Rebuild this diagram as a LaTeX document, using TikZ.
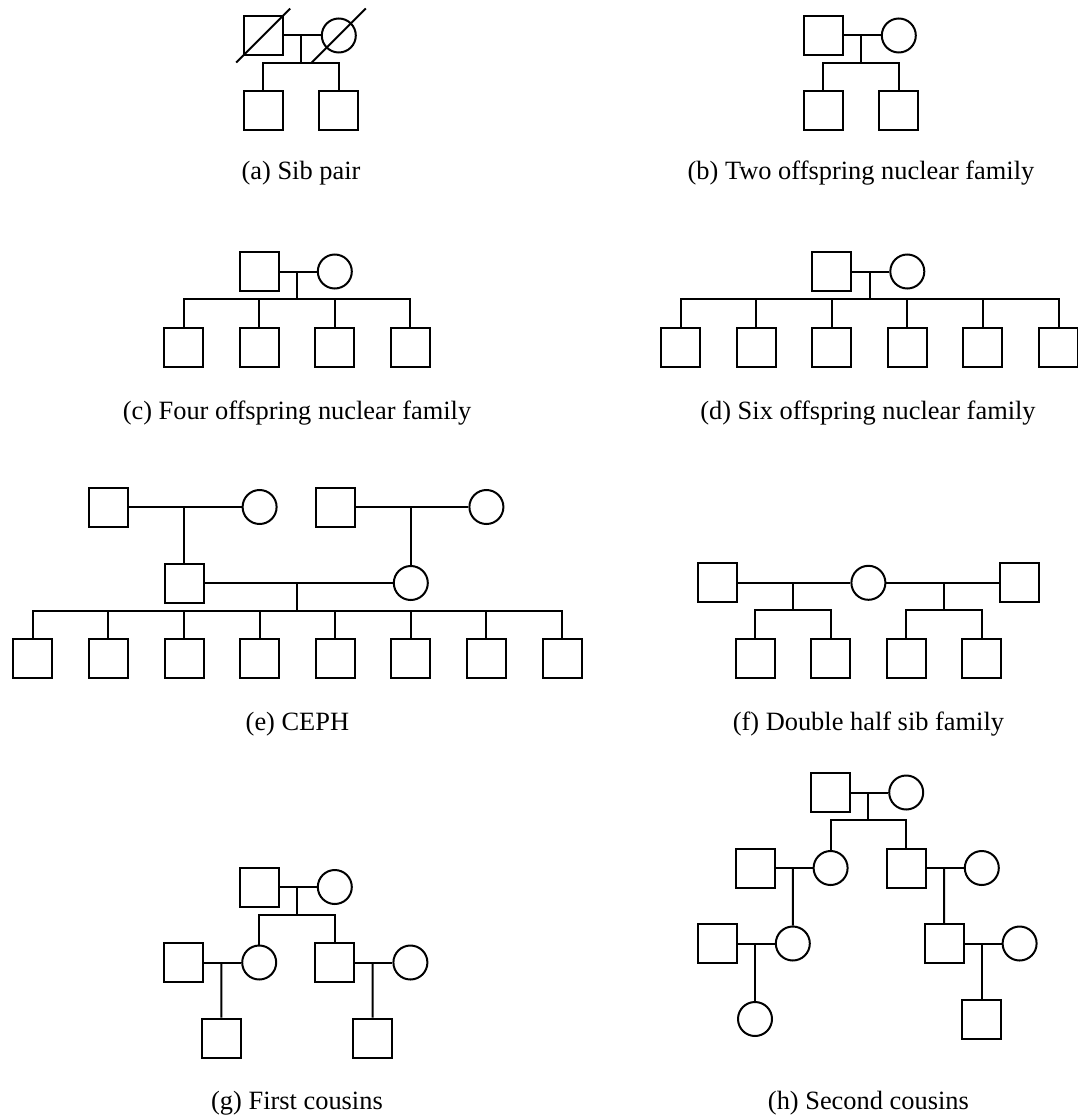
\documentclass[tikz,border=0pt]{standalone}
\usepackage{fontspec}
\setmainfont{Liberation Serif}
\usetikzlibrary{calc}
\tikzset{
  male/.style = {draw, rectangle, minimum size=39, inner sep=0pt},
  female/.style = {draw, circle, minimum size=34, inner sep=0pt},
  caption/.style = {anchor=base, font=\fontsize{26.4}{30}\selectfont}
}

\begin{document}
\begin{tikzpicture}[x=1pt,y=-1pt,line width=2pt]
  \useasboundingbox (0,0) rectangle (1077,1118);
  \pgfmathsetmacro{\dx}{75.6};
  \pgfmathsetmacro{\hx}{37.8};
  \pgfmathsetmacro{\dy}{75.5};
  \pgfmathsetmacro{\sib}{27.5};
  %
  % (a) sib pair
  \node[male] (a-f) at (301-\hx,35.5) {};
  \node[female] (a-m) at (301+\hx,35.5) {};
  \node[male] (a-c1) at (301-\hx,35.5+\dy) {};
  \node[male] (a-c2) at (301+\hx,35.5+\dy) {};
  \coordinate (a-j) at ($(a-f)!.5!(a-m)$);
  \coordinate (a-sib) at ($(a-j)+(0,\sib)$);
  \draw (a-f) -- (a-m);
  \draw (a-j) -- (a-sib);
  \draw (a-c1.north) |- (a-sib) -| (a-c2.north);
  \draw (a-f) ++(-27,27) -- ++(54,-54);
  \draw (a-m) ++(-27,27) -- ++(54,-54);
  \node[caption] (a-cap) at (301,180) {(a) Sib pair};
  %
  % (b) two offspring
  \node[male] (b-f) at (861-\hx,35.5) {};
  \node[female] (b-m) at (861+\hx,35.5) {};
  \node[male] (b-c1) at (861-\hx,35.5+\dy) {};
  \node[male] (b-c2) at (861+\hx,35.5+\dy) {};
  \coordinate (b-j) at ($(b-f)!.5!(b-m)$);
  \coordinate (b-sib) at ($(b-j)+(0,\sib)$);
  \draw (b-f) -- (b-m);
  \draw (b-j) -- (b-sib);
  \draw (b-c1.north) |- (b-sib) -| (b-c2.north);
  \node[caption] (b-cap) at (861,180) {(b) Two offspring nuclear family};
  %
  % (c) four offspring
  \node[male] (c-f) at (297-\hx,271.5) {};
  \node[female] (c-m) at (297+\hx,271.5) {};
  \foreach \k in {1,...,4}
    \node[male] (c-c\k) at ({297+(\k-2.5)*\dx},271.5+\dy) {};
  \coordinate (c-j) at ($(c-f)!.5!(c-m)$);
  \coordinate (c-sib) at ($(c-j)+(0,\sib)$);
  \draw (c-f) -- (c-m);
  \draw (c-j) -- (c-sib);
  \draw (c-c1.north) |- (c-sib) -| (c-c4.north);
  \foreach \k in {2,3}
    \draw (c-c\k.north) -- (c-c\k.north |- c-sib);
  \node[caption] (c-cap) at (297,419.5) {(c) Four offspring nuclear family};
  %
  % (d) six offspring
  \node[male] (d-f) at (869.5-\hx,271.5) {};
  \node[female] (d-m) at (869.5+\hx,271.5) {};
  \foreach \k in {1,...,6}
    \node[male] (d-c\k) at ({869.5+(\k-3.5)*\dx},271.5+\dy) {};
  \coordinate (d-j) at ($(d-f)!.5!(d-m)$);
  \coordinate (d-sib) at ($(d-j)+(0,\sib)$);
  \draw (d-f) -- (d-m);
  \draw (d-j) -- (d-sib);
  \draw (d-c1.north) |- (d-sib) -| (d-c6.north);
  \foreach \k in {2,...,5}
    \draw (d-c\k.north) -- (d-c\k.north |- d-sib);
  \node[caption] (d-cap) at (868,419.5) {(d) Six offspring nuclear family};
  %
  % (e) CEPH
  \node[male] (e-gf1) at (297.4-2.5*\dx,507) {};
  \node[female] (e-gm1) at (297.4-0.5*\dx,507) {};
  \node[male] (e-gf2) at (297.4+0.5*\dx,507) {};
  \node[female] (e-gm2) at (297.4+2.5*\dx,507) {};
  \node[male] (e-f) at (297.4-1.5*\dx,583) {};
  \node[female] (e-m) at (297.4+1.5*\dx,583) {};
  \foreach \k in {1,...,8}
    \node[male] (e-c\k) at ({297.4+(\k-4.5)*\dx},658.5) {};
  \coordinate (e-j1) at (e-f |- e-gf1);
  \coordinate (e-j2) at (e-m |- e-gf2);
  \coordinate (e-j) at ($(e-f)!.5!(e-m)$);
  \coordinate (e-sib) at ($(e-j)+(0,\sib)$);
  \draw (e-gf1) -- (e-gm1);
  \draw (e-gf2) -- (e-gm2);
  \draw (e-j1) -- (e-f);
  \draw (e-j2) -- (e-m);
  \draw (e-f) -- (e-m);
  \draw (e-j) -- (e-sib);
  \draw (e-c1.north) |- (e-sib) -| (e-c8.north);
  \foreach \k in {2,...,7}
    \draw (e-c\k.north) -- (e-c\k.north |- e-sib);
  \node[caption] (e-cap) at (297.4,730) {(e) CEPH};
  %
  % (f) double half sib
  \node[male] (f-h1) at (868.4-2*\dx,582.8) {};
  \node[female] (f-w) at (868.4,582.8) {};
  \node[male] (f-h2) at (868.4+2*\dx,582.8) {};
  \foreach \k in {1,...,4}
    \node[male] (f-c\k) at ({868.4+(\k-2.5)*\dx},658.5) {};
  \coordinate (f-j1) at ($(f-h1)!.5!(f-w)$);
  \coordinate (f-j2) at ($(f-w)!.5!(f-h2)$);
  \coordinate (f-sib1) at ($(f-j1)+(0,\sib)$);
  \coordinate (f-sib2) at ($(f-j2)+(0,\sib)$);
  \draw (f-h1) -- (f-w);
  \draw (f-w) -- (f-h2);
  \draw (f-j1) -- (f-sib1);
  \draw (f-j2) -- (f-sib2);
  \draw (f-c1.north) |- (f-sib1) -| (f-c2.north);
  \draw (f-c3.north) |- (f-sib2) -| (f-c4.north);
  \node[caption] (f-cap) at (868.4,730) {(f) Double half sib family};
  %
  % (g) first cousins
  \node[male] (g-f) at (297-0.5*\dx,887) {};
  \node[female] (g-m) at (297+0.5*\dx,887) {};
  \node[male] (g-h1) at (297-1.5*\dx,962.5) {};
  \node[female] (g-d) at (297-0.5*\dx,962.5) {};
  \node[male] (g-son) at (297+0.5*\dx,962.5) {};
  \node[female] (g-w1) at (297+1.5*\dx,962.5) {};
  \node[male] (g-c1) at (297-\dx,1038) {};
  \node[male] (g-c2) at (297+\dx,1038) {};
  \coordinate (g-j) at ($(g-f)!.5!(g-m)$);
  \coordinate (g-sib) at ($(g-j)+(0,\sib)$);
  \coordinate (g-j1) at ($(g-h1)!.5!(g-d)$);
  \coordinate (g-j2) at ($(g-son)!.5!(g-w1)$);
  \draw (g-f) -- (g-m);
  \draw (g-j) -- (g-sib);
  \draw (g-d.north) |- (g-sib) -| (g-son.north);
  \draw (g-h1) -- (g-d);
  \draw (g-son) -- (g-w1);
  \draw (g-j1) -- (g-c1);
  \draw (g-j2) -- (g-c2);
  \node[caption] (g-cap) at (297,1109) {(g) First cousins};
  %
  % (h) second cousins
  \node[male] (h-f) at (868.4-0.5*\dx,792.5) {};
  \node[female] (h-m) at (868.4+0.5*\dx,792.5) {};
  \node[male] (h-h1) at (868.4-1.5*\dx,868) {};
  \node[female] (h-d) at (868.4-0.5*\dx,868) {};
  \node[male] (h-son) at (868.4+0.5*\dx,868) {};
  \node[female] (h-w1) at (868.4+1.5*\dx,868) {};
  \node[male] (h-h2) at (868.4-2*\dx,943.5) {};
  \node[female] (h-gd) at (868.4-\dx,943.5) {};
  \node[male] (h-gs) at (868.4+\dx,943.5) {};
  \node[female] (h-w2) at (868.4+2*\dx,943.5) {};
  \node[female] (h-c1) at (868.4-1.5*\dx,1019) {};
  \node[male] (h-c2) at (868.4+1.5*\dx,1019) {};
  \coordinate (h-j) at ($(h-f)!.5!(h-m)$);
  \coordinate (h-sib) at ($(h-j)+(0,\sib)$);
  \coordinate (h-j1) at ($(h-h1)!.5!(h-d)$);
  \coordinate (h-j2) at ($(h-son)!.5!(h-w1)$);
  \coordinate (h-j3) at ($(h-h2)!.5!(h-gd)$);
  \coordinate (h-j4) at ($(h-gs)!.5!(h-w2)$);
  \draw (h-f) -- (h-m);
  \draw (h-j) -- (h-sib);
  \draw (h-d.north) |- (h-sib) -| (h-son.north);
  \draw (h-h1) -- (h-d);
  \draw (h-son) -- (h-w1);
  \draw (h-j1) -- (h-gd);
  \draw (h-j2) -- (h-gs);
  \draw (h-h2) -- (h-gd);
  \draw (h-gs) -- (h-w2);
  \draw (h-j3) -- (h-c1);
  \draw (h-j4) -- (h-c2);
  \node[caption] (h-cap) at (868.4,1109) {(h) Second cousins};
\end{tikzpicture}
\end{document}
